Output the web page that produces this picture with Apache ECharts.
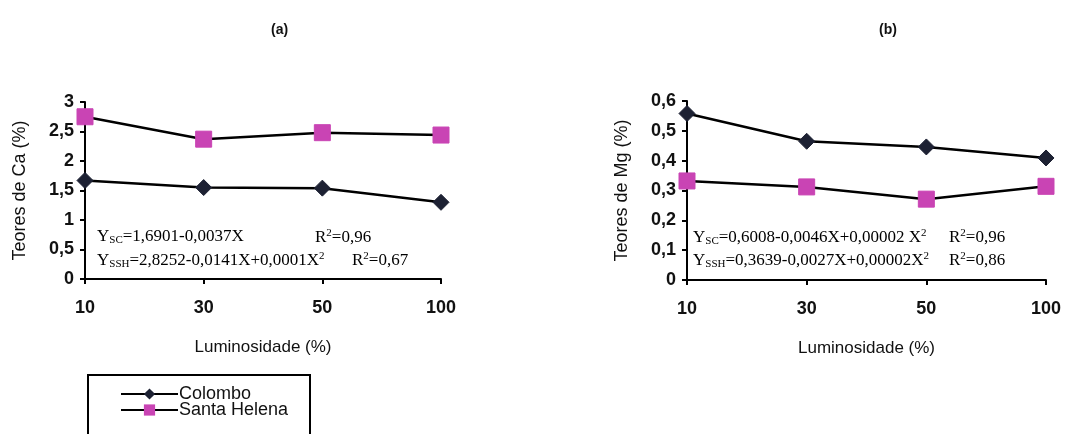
<!DOCTYPE html>
<html>
<head>
<meta charset="utf-8">
<script src="https://cdn.jsdelivr.net/npm/echarts@6/dist/echarts.min.js"></script>
<style>html,body{margin:0;padding:0;background:#fff}#c{width:1078px;height:434px}</style>
</head>
<body>
<div id="c"></div>
<script>
const categories = ['10', '30', '50', '100'];
const caColombo = [1.67, 1.55, 1.54, 1.30];
const caSantaHelena = [2.75, 2.37, 2.48, 2.44];
const mgColombo = [0.558, 0.465, 0.446, 0.409];
const mgSantaHelena = [0.332, 0.312, 0.271, 0.314];
const seriesNames = ['Colombo', 'Santa Helena'];
const panelTitles = ['(a)', '(b)'];
const yNames = ['Teores de Ca (%)', 'Teores de Mg (%)'];
const xName = 'Luminosidade (%)';

const sans = 'Liberation Sans, Arial, sans-serif';
const serif = 'Liberation Serif, Times New Roman, serif';
const dark = '#1d2133';
const pink = '#c944b4';

const fmt = v => String(+v.toFixed(2)).replace('.', ',');

function xAxis(i) {
  return {
    type: 'category', gridIndex: i, data: categories, boundaryGap: false,
    name: xName, nameLocation: 'middle', nameGap: 60,
    nameTextStyle: { fontFamily: sans, fontSize: 17, color: '#111' },
    axisLine: { lineStyle: { color: '#000', width: 2 } },
    axisTick: { show: true, alignWithLabel: true, length: 5, lineStyle: { color: '#000', width: 2 } },
    axisLabel: { fontFamily: sans, fontSize: 18, color: '#111', fontWeight: 'bold', margin: 20 },
    splitLine: { show: false }
  };
}
function yAxis(i, max, interval) {
  return {
    type: 'value', gridIndex: i, min: 0, max: max, interval: interval,
    name: yNames[i], nameLocation: 'middle', nameGap: 56, nameRotate: 90,
    nameTextStyle: { fontFamily: sans, fontSize: 18, color: '#111' },
    axisLine: { show: true, lineStyle: { color: '#000', width: 2 } },
    axisTick: { show: true, length: 5, lineStyle: { color: '#000', width: 2 } },
    axisLabel: { fontFamily: sans, fontSize: 18, color: '#111', fontWeight: 'bold', margin: 11, formatter: fmt },
    splitLine: { show: false }
  };
}
function line(name, data, i, sym, size, color) {
  return {
    name: name, type: 'line', xAxisIndex: i, yAxisIndex: i, data: data,
    symbol: sym, symbolSize: size, showSymbol: true,
    itemStyle: { color: color, borderColor: color },
    lineStyle: { color: '#000', width: 2.5 },
    z: 3
  };
}

const eqStyle = {
  n: { fontFamily: serif, fontSize: 17, color: '#111' },
  sub: { fontFamily: serif, fontSize: 11, color: '#111', verticalAlign: 'bottom', padding: [7, 0, 0, 0] },
  sup: { fontFamily: serif, fontSize: 11, color: '#111', verticalAlign: 'top', padding: [0, 0, 8, 0] }
};
function txt(x, y, s) {
  return { type: 'text', left: x, top: y, style: { text: s, rich: eqStyle, font: '17px ' + serif } };
}

const chart = echarts.init(document.getElementById('c'));
chart.setOption({
  animation: false,
  backgroundColor: '#fff',
  title: [
    { text: panelTitles[0], left: 266, top: 18, textStyle: { fontFamily: sans, fontSize: 14, fontWeight: 'bold', color: '#111' } },
    { text: panelTitles[1], left: 874, top: 18, textStyle: { fontFamily: sans, fontSize: 14, fontWeight: 'bold', color: '#111' } }
  ],
  grid: [
    { left: 85, right: 637, top: 102, bottom: 155 },
    { left: 687, right: 32, top: 101, bottom: 154 }
  ],
  xAxis: [xAxis(0), xAxis(1)],
  yAxis: [yAxis(0, 3, 0.5), yAxis(1, 0.6, 0.1)],
  legend: {
    orient: 'vertical', left: 115, top: 380, itemWidth: 57, itemHeight: 14, itemGap: -2,
    data: seriesNames,
    textStyle: { fontFamily: sans, fontSize: 18, color: '#111', padding: [0, 0, 0, -4] }
  },
  series: [
    line(seriesNames[0], caColombo, 0, 'diamond', 16, dark),
    line(seriesNames[1], caSantaHelena, 0, 'rect', 16, pink),
    line(seriesNames[0], mgColombo, 1, 'diamond', 16, dark),
    line(seriesNames[1], mgSantaHelena, 1, 'rect', 16, pink)
  ],
  graphic: [
    { type: 'rect', shape: { x: 88, y: 375, width: 222, height: 80 }, style: { fill: 'none', stroke: '#000', lineWidth: 2 }, z: -1 },
    txt(97, 228, '{n|Y}{sub|SC}{n|=1,6901-0,0037X}'),
    txt(315, 228, '{n|R}{sup|2}{n|=0,96}'),
    txt(97, 251, '{n|Y}{sub|SSH}{n|=2,8252-0,0141X+0,0001X}{sup|2}'),
    txt(352, 251, '{n|R}{sup|2}{n|=0,67}'),
    txt(693, 228, '{n|Y}{sub|SC}{n|=0,6008-0,0046X+0,00002 X}{sup|2}'),
    txt(949, 228, '{n|R}{sup|2}{n|=0,96}'),
    txt(693, 251, '{n|Y}{sub|SSH}{n|=0,3639-0,0027X+0,00002X}{sup|2}'),
    txt(949, 251, '{n|R}{sup|2}{n|=0,86}')
  ]
});
</script>
</body>
</html>
